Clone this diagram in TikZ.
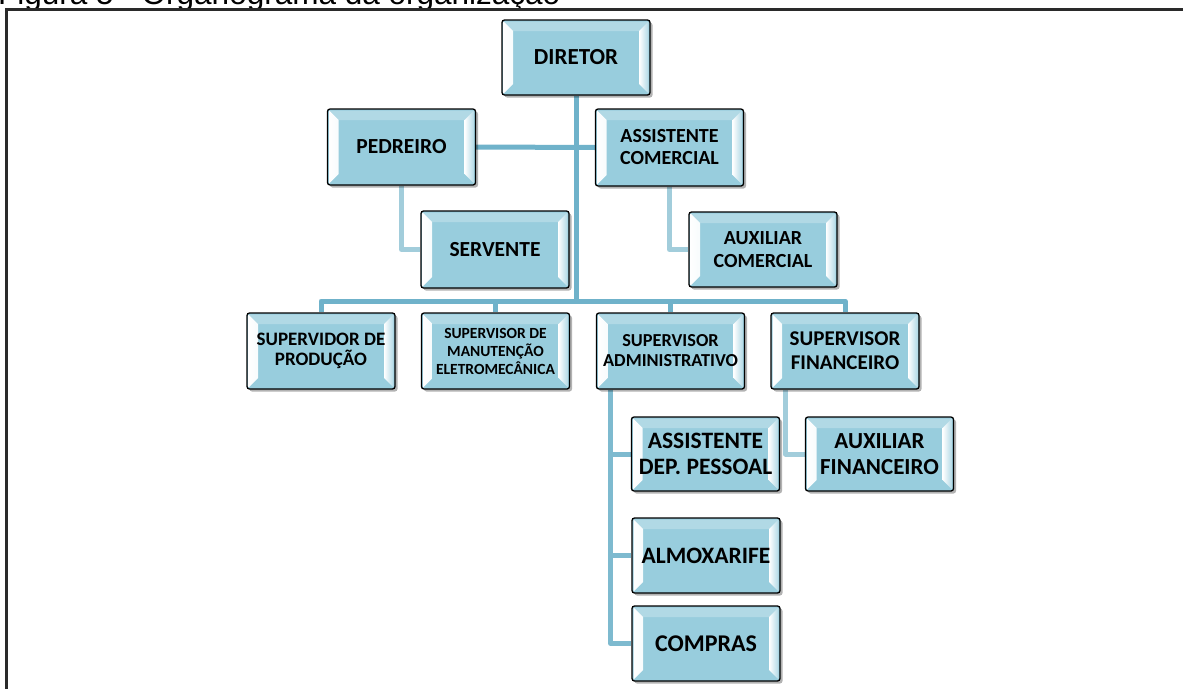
\documentclass[tikz,border=0pt]{standalone}
\usepackage{fontspec}
\setmainfont{Carlito}
\newfontfamily\arialf{Liberation Sans}
\usetikzlibrary{shadows,calc}
\pgfdeclarelayer{background}
\pgfdeclarelayer{paper}
\pgfsetlayers{paper,background,main}
\definecolor{boxc}{HTML}{98CDDD}
\definecolor{trunkc}{HTML}{6FB2CA}
\definecolor{subc}{HTML}{A2CDDB}
\definecolor{framec}{HTML}{2A2A2A}
\tikzset{
  orgbox/.style={draw=black, line width=1.3pt, rounded corners=2.5pt, fill=boxc,
    minimum width=148pt, minimum height=75pt, inner sep=0pt, align=center,
    text=black,
    drop shadow={shadow xshift=2.5pt, shadow yshift=-2.5pt, fill=black, opacity=0.3},
    path picture={
      \shade[left color=white, right color=boxc, rounded corners=0pt]
        ([shift={(1.5pt,-1.5pt)}]path picture bounding box.north west) --
        ([shift={(11pt,-11pt)}]path picture bounding box.north west) --
        ([shift={(11pt,11pt)}]path picture bounding box.south west) --
        ([shift={(1.5pt,1.5pt)}]path picture bounding box.south west) -- cycle;
      \shade[left color=white, right color=boxc!75!white, rounded corners=0pt]
        ([shift={(-1.5pt,-1.5pt)}]path picture bounding box.north east) --
        ([shift={(-11pt,-11pt)}]path picture bounding box.north east) --
        ([shift={(-11pt,11pt)}]path picture bounding box.south east) --
        ([shift={(-1.5pt,1.5pt)}]path picture bounding box.south east) -- cycle;
      \fill[white, opacity=0.25, rounded corners=0pt]
        ([shift={(1.5pt,-1.5pt)}]path picture bounding box.north west) --
        ([shift={(11pt,-11pt)}]path picture bounding box.north west) --
        ([shift={(-11pt,-11pt)}]path picture bounding box.north east) --
        ([shift={(-1.5pt,-1.5pt)}]path picture bounding box.north east) -- cycle;
    }},
  fs/.style 2 args={font=\bfseries\fontsize{#1}{#2}\selectfont},
  trunk/.style={draw=trunkc, line width=5pt, line join=round},
  subline/.style={draw=subc, line width=5pt, line join=round},
}
\begin{document}
\begin{tikzpicture}[x=1pt,y=-1pt]
\useasboundingbox (0,0) rectangle (1183,688);
\clip (0,0) rectangle (1183,688);
\begin{pgfonlayer}{paper}
  \fill[white] (0,0) rectangle (1183,688);
\end{pgfonlayer}

\node[anchor=base west, inner sep=0pt, font=\arialf\fontsize{31.5}{36}\selectfont] (title) at (-2,4.5) {Figura 5 - Organograma da organização};
\draw[framec, line width=2.3pt] (6.5,690) -- (6.5,9.5) -- (1185,9.5);

\node[orgbox, fs={23}{25}] (dir) at (576,57.5) {DIRETOR};
\node[orgbox, fs={21.5}{24}, minimum height=76pt] (ped) at (401.5,147) {PEDREIRO};
\node[orgbox, fs={20}{22}, minimum height=77pt] (asc) at (669.5,147.5) {ASSISTENTE\\COMERCIAL};
\node[orgbox, fs={21.5}{24}, minimum height=77pt] (serv) at (495,249.5) {SERVENTE};
\node[orgbox, fs={20}{23}] (auxc) at (763,249.5) {AUXILIAR\\COMERCIAL};

\node[orgbox, fs={19}{20}, minimum height=76pt] (prod) at (321,351) {SUPERVIDOR DE\\PRODUÇÃO};
\node[orgbox, fs={15.5}{18}, minimum height=76pt] (man) at (495.5,351) {SUPERVISOR DE\\MANUTENÇÃO\\ELETROMECÂNICA};
\node[orgbox, fs={18.3}{20}, minimum height=76pt] (adm) at (670.5,351) {SUPERVISOR\\ADMINISTRATIVO};
\node[orgbox, fs={21}{24}, minimum height=76pt] (fin) at (845,351) {SUPERVISOR\\FINANCEIRO};

\node[orgbox, fs={23.5}{26}, minimum height=74pt] (adp) at (705.5,454) {ASSISTENTE\\DEP. PESSOAL};
\node[orgbox, fs={23}{26}, minimum height=74pt] (auxf) at (879.5,454) {AUXILIAR\\FINANCEIRO};
\node[orgbox, fs={23.5}{26}] (alm) at (706,555.5) {ALMOXARIFE};
\node[orgbox, fs={24}{26}] (comp) at (706,643.5) {COMPRAS};

\coordinate (bus) at (576,301);

\begin{pgfonlayer}{background}
  \draw[trunk] (dir.south) -- (dir.south |- bus);
  \draw[trunk] (ped.east) -- (asc.west);
  \draw[trunk] (prod.north) -- (prod.north |- bus) -- (fin.north |- bus) -- (fin.north);
  \draw[trunk] (man.north) -- (man.north |- bus);
  \draw[trunk] (adm.north) -- (adm.north |- bus);
  \draw[subline] (ped.south) |- (serv.west);
  \draw[subline] (asc.south) |- (auxc.west);
  \draw[trunk, draw=trunkc!70!subc] ([xshift=15pt]adm.south west) |- (adp.west);
  \draw[trunk, draw=trunkc!70!subc] ([xshift=15pt]adm.south west) |- (alm.west);
  \draw[trunk, draw=trunkc!70!subc] ([xshift=15pt]adm.south west) |- (comp.west);
  \draw[subline] ([xshift=15pt]fin.south west) |- (auxf.west);
\end{pgfonlayer}
\end{tikzpicture}
\end{document}
